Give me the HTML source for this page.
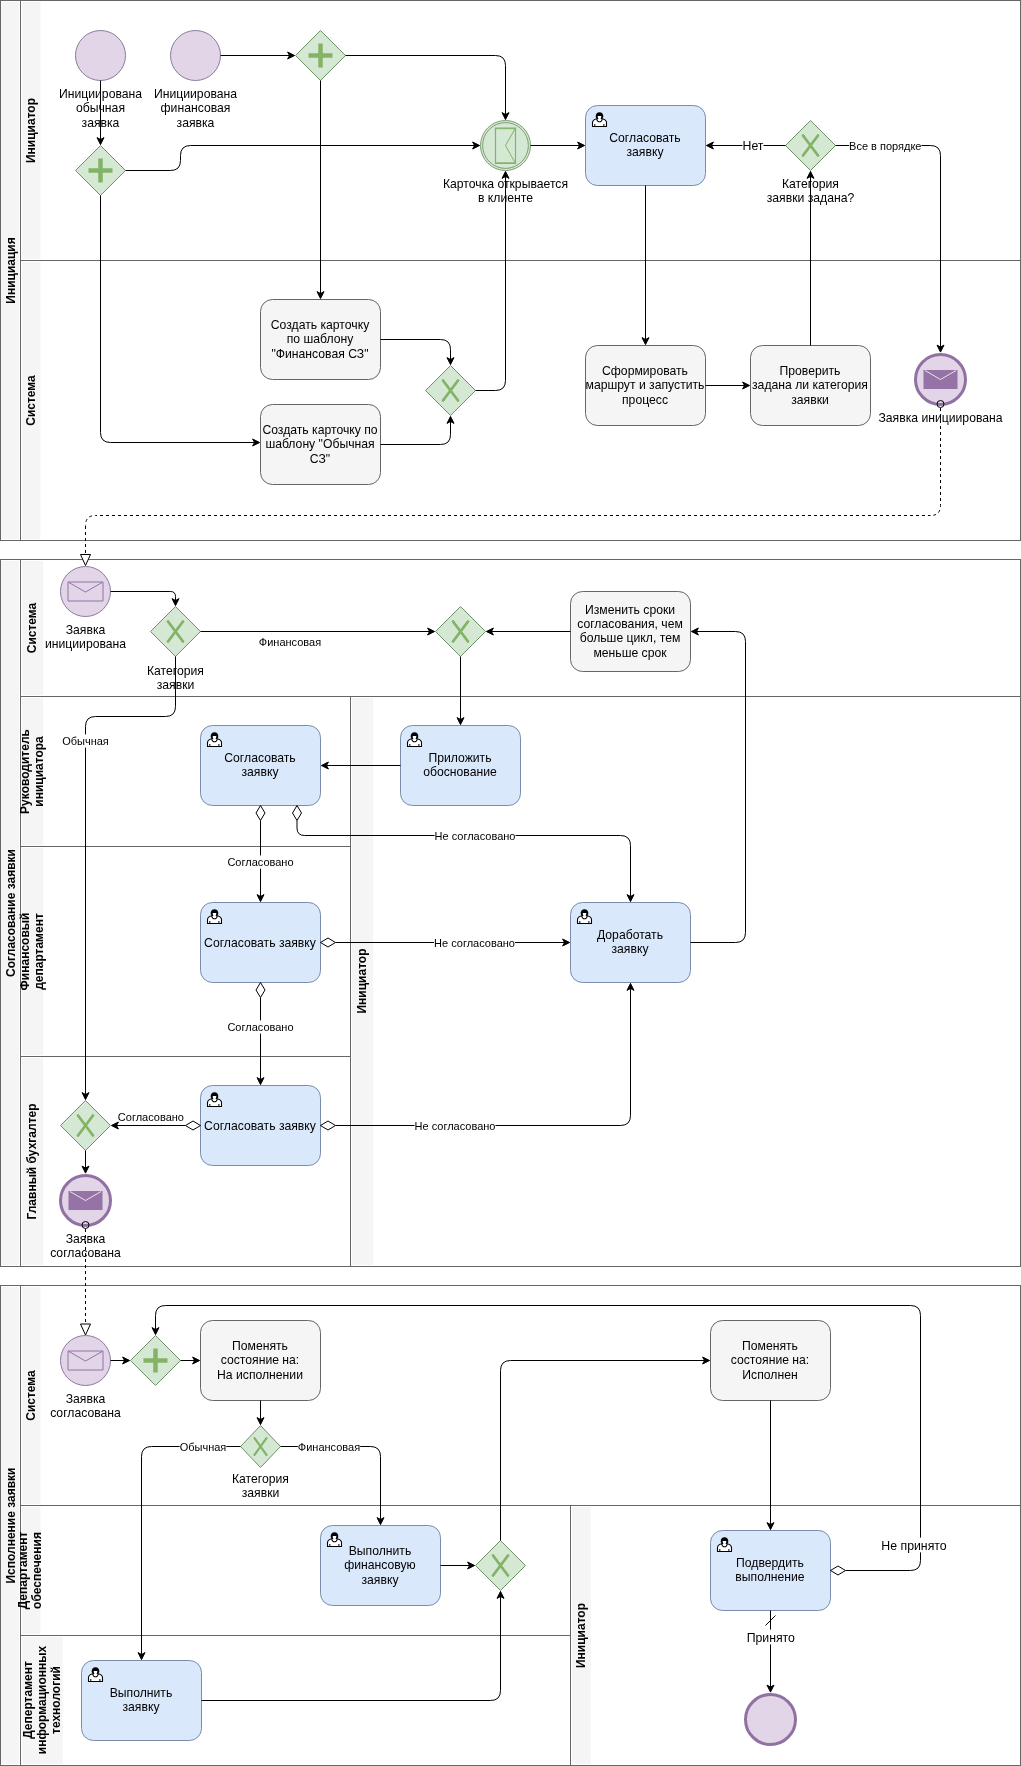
<!DOCTYPE html><html><head><meta charset="utf-8"><title>BPMN</title><style>html,body{margin:0;padding:0;background:#fff;overflow:hidden}svg{display:block;will-change:transform}</style></head><body><svg width="1021" height="1766" viewBox="0 0 1021 1766" font-family="'Liberation Sans', sans-serif">
<rect x="0" y="0" width="1021" height="1766" fill="#fff"/>
<rect x="1.2" y="2" width="17.8" height="537" fill="#f5f5f5"/>
<rect x="22" y="2" width="18.5" height="257" fill="#f5f5f5"/>
<rect x="22" y="262" width="18.5" height="277" fill="#f5f5f5"/>
<path d="M20.5 260.5L1020.5 260.5" stroke="#666666" stroke-width="1" fill="none"/>
<path d="M20.5 0.5L20.5 540.5" stroke="#666666" stroke-width="1" fill="none"/>
<rect x="0.5" y="0.5" width="1020" height="540.0" rx="0" fill="none" stroke="#666666" stroke-width="1"/>
<g transform="translate(11.4,270.5) rotate(-90)"><text x="0" y="3.48" font-size="12" text-anchor="middle" font-weight="bold">Инициация</text></g>
<g transform="translate(31.4,130.5) rotate(-90)"><text x="0" y="3.48" font-size="12" text-anchor="middle" font-weight="bold">Инициатор</text></g>
<g transform="translate(31.4,400.5) rotate(-90)"><text x="0" y="3.48" font-size="12" text-anchor="middle" font-weight="bold">Система</text></g>
<rect x="1.2" y="561" width="17.8" height="704" fill="#f5f5f5"/>
<rect x="22" y="561" width="21.1" height="134" fill="#f5f5f5"/>
<rect x="22" y="698" width="21.1" height="147" fill="#f5f5f5"/>
<rect x="22" y="848" width="21.1" height="207" fill="#f5f5f5"/>
<rect x="22" y="1058" width="21.1" height="207" fill="#f5f5f5"/>
<rect x="352" y="698" width="21.100000000000023" height="567" fill="#f5f5f5"/>
<path d="M20.5 696.5L1020.5 696.5" stroke="#666666" stroke-width="1" fill="none"/>
<path d="M20.5 846.5L350.5 846.5" stroke="#666666" stroke-width="1" fill="none"/>
<path d="M20.5 1056.5L350.5 1056.5" stroke="#666666" stroke-width="1" fill="none"/>
<path d="M350.5 696.5L350.5 1266.5" stroke="#666666" stroke-width="1" fill="none"/>
<path d="M20.5 559.5L20.5 1266.5" stroke="#666666" stroke-width="1" fill="none"/>
<rect x="0.5" y="559.5" width="1020" height="707.0" rx="0" fill="none" stroke="#666666" stroke-width="1"/>
<g transform="translate(11.4,913) rotate(-90)"><text x="0" y="3.48" font-size="12" text-anchor="middle" font-weight="bold">Согласование заявки</text></g>
<g transform="translate(32.9,628) rotate(-90)"><text x="0" y="3.48" font-size="12" text-anchor="middle" font-weight="bold">Система</text></g>
<g transform="translate(32.4,771.5) rotate(-90)"><text x="0" y="-3.72" font-size="12" text-anchor="middle" font-weight="bold">Руководитель</text><text x="0" y="10.68" font-size="12" text-anchor="middle" font-weight="bold">инициатора</text></g>
<g transform="translate(32.4,951.5) rotate(-90)"><text x="0" y="-3.72" font-size="12" text-anchor="middle" font-weight="bold">Финансовый</text><text x="0" y="10.68" font-size="12" text-anchor="middle" font-weight="bold">департамент</text></g>
<g transform="translate(32.9,1161.5) rotate(-90)"><text x="0" y="3.48" font-size="12" text-anchor="middle" font-weight="bold">Главный бухгалтер</text></g>
<g transform="translate(362.4,981) rotate(-90)"><text x="0" y="3.48" font-size="12" text-anchor="middle" font-weight="bold">Инициатор</text></g>
<rect x="1.2" y="1287" width="17.8" height="477" fill="#f5f5f5"/>
<rect x="22" y="1287" width="18.5" height="217" fill="#f5f5f5"/>
<rect x="22" y="1507" width="18.5" height="127" fill="#f5f5f5"/>
<rect x="22" y="1637" width="40.8" height="127" fill="#f5f5f5"/>
<rect x="572" y="1507" width="18.799999999999955" height="257" fill="#f5f5f5"/>
<path d="M20.5 1505.5L1020.5 1505.5" stroke="#666666" stroke-width="1" fill="none"/>
<path d="M20.5 1635.5L570.5 1635.5" stroke="#666666" stroke-width="1" fill="none"/>
<path d="M570.5 1505.5L570.5 1765.5" stroke="#666666" stroke-width="1" fill="none"/>
<path d="M20.5 1285.5L20.5 1765.5" stroke="#666666" stroke-width="1" fill="none"/>
<rect x="0.5" y="1285.5" width="1020" height="480.0" rx="0" fill="none" stroke="#666666" stroke-width="1"/>
<g transform="translate(11.4,1525.5) rotate(-90)"><text x="0" y="3.48" font-size="12" text-anchor="middle" font-weight="bold">Исполнение заявки</text></g>
<g transform="translate(31.4,1395.5) rotate(-90)"><text x="0" y="3.48" font-size="12" text-anchor="middle" font-weight="bold">Система</text></g>
<g transform="translate(30.6,1570.5) rotate(-90)"><text x="0" y="-3.72" font-size="12" text-anchor="middle" font-weight="bold">Департамент</text><text x="0" y="10.68" font-size="12" text-anchor="middle" font-weight="bold">обеспечения</text></g>
<g transform="translate(42.5,1700) rotate(-90)"><text x="0" y="-10.92" font-size="12" text-anchor="middle" font-weight="bold">Депертамент</text><text x="0" y="3.48" font-size="12" text-anchor="middle" font-weight="bold">информационных</text><text x="0" y="17.88" font-size="12" text-anchor="middle" font-weight="bold">технологий</text></g>
<g transform="translate(581.4,1635.5) rotate(-90)"><text x="0" y="3.48" font-size="12" text-anchor="middle" font-weight="bold">Инициатор</text></g>
<circle cx="100.5" cy="55.5" r="25" fill="#e1d5e7" stroke="#8c7a9c"/>
<text x="100.5" y="98.00" font-size="12.2" text-anchor="middle" font-weight="normal" fill="#000">Инициирована</text><text x="100.5" y="112.40" font-size="12.2" text-anchor="middle" font-weight="normal" fill="#000">обычная</text><text x="100.5" y="126.80" font-size="12.2" text-anchor="middle" font-weight="normal" fill="#000">заявка</text>
<circle cx="195.5" cy="55.5" r="25" fill="#e1d5e7" stroke="#8c7a9c"/>
<text x="195.5" y="98.00" font-size="12.2" text-anchor="middle" font-weight="normal" fill="#000">Инициирована</text><text x="195.5" y="112.40" font-size="12.2" text-anchor="middle" font-weight="normal" fill="#000">финансовая</text><text x="195.5" y="126.80" font-size="12.2" text-anchor="middle" font-weight="normal" fill="#000">заявка</text>
<path d="M75.5 170.5L100.5 145.5L125.5 170.5L100.5 195.5Z" fill="#d5e8d4" stroke="#6f9068"/>
<path d="M88.5 168.25H98.25V158.5H102.75V168.25H112.5V172.75H102.75V182.5H98.25V172.75H88.5Z" fill="#82b366"/>
<path d="M295.5 55.5L320.5 30.5L345.5 55.5L320.5 80.5Z" fill="#d5e8d4" stroke="#6f9068"/>
<path d="M308.5 53.25H318.25V43.5H322.75V53.25H332.5V57.75H322.75V67.5H318.25V57.75H308.5Z" fill="#82b366"/>
<circle cx="505.5" cy="145.5" r="25" fill="#d5e8d4" stroke="#7d9e72"/>
<circle cx="505.5" cy="145.5" r="22.9" fill="none" stroke="#7d9e72"/>
<path d="M495.5 128.0H515.5V163.5H495.5Z" fill="none" stroke="#82b366" stroke-width="1.2"/>
<path d="M495.5 128.7H515.5M495.5 162.8H515.5" fill="none" stroke="#82b366" stroke-width="1"/>
<path d="M515.5 128.0L505.5 145.5L515.5 163.5" fill="none" stroke="#82b366" stroke-width="1"/>
<text x="505.5" y="188.00" font-size="12.2" text-anchor="middle" font-weight="normal" fill="#000">Карточка открывается</text><text x="505.5" y="202.40" font-size="12.2" text-anchor="middle" font-weight="normal" fill="#000">в клиенте</text>
<rect x="585.5" y="105.5" width="120" height="80" rx="12" fill="#dae8fc" stroke="#7a8bab" stroke-width="1"/>
<g transform="translate(592.0,112.0)"><path d="M0.5 14.5V10.8C0.5 8.7 2.5 7.3 4.7 6.8C5.1 8.6 6.1 9.8 7.5 9.8C8.9 9.8 9.9 8.6 10.3 6.8C12.5 7.3 14.5 8.7 14.5 10.8V14.5Z" fill="#fff" stroke="#000" stroke-width="1.1" stroke-linejoin="round"/><path d="M3.7 5.0C3.4 2.1 5.1 0.3 7.5 0.3C9.9 0.3 11.6 2.1 11.3 5.0C11.0 5.8 10.5 6.5 10.1 7.1L4.9 7.1C4.5 6.5 4.0 5.8 3.7 5.0Z" fill="#000"/><path d="M5.7 3.9H9.3C9.4 5.0 9.1 5.9 8.6 6.5C9.1 7.0 9.3 7.7 9.2 8.3C8.9 8.9 8.3 9.2 7.5 9.2C6.7 9.2 6.1 8.9 5.8 8.3C5.7 7.7 5.9 7.0 6.4 6.5C5.9 5.9 5.6 5.0 5.7 3.9Z" fill="#fff"/><path d="M2.8 12.0V14.5M11.9 12.0V14.5" stroke="#000" stroke-width="1"/></g>
<text x="645.0" y="141.90" font-size="12.2" text-anchor="middle" font-weight="normal" fill="#000">Согласовать</text><text x="645.0" y="156.30" font-size="12.2" text-anchor="middle" font-weight="normal" fill="#000">заявку</text>
<path d="M785.5 145.5L810.5 120.5L835.5 145.5L810.5 170.5Z" fill="#d5e8d4" stroke="#6f9068"/>
<path d="M803.0 135.5L818.0 155.5M818.0 135.5L803.0 155.5" stroke="#82b366" stroke-width="2.75" stroke-linecap="round" fill="none"/>
<text x="810.5" y="188.00" font-size="12.2" text-anchor="middle" font-weight="normal" fill="#000">Категория</text><text x="810.5" y="202.40" font-size="12.2" text-anchor="middle" font-weight="normal" fill="#000">заявки задана?</text>
<rect x="260.5" y="299.5" width="120" height="80" rx="12" fill="#f5f5f5" stroke="#666666" stroke-width="1"/>
<text x="320.0" y="328.70" font-size="12.2" text-anchor="middle" font-weight="normal" fill="#000">Создать карточку</text><text x="320.0" y="343.10" font-size="12.2" text-anchor="middle" font-weight="normal" fill="#000">по шаблону</text><text x="320.0" y="357.50" font-size="12.2" text-anchor="middle" font-weight="normal" fill="#000">&quot;Финансовая СЗ&quot;</text>
<rect x="260.5" y="404.5" width="120" height="80" rx="12" fill="#f5f5f5" stroke="#666666" stroke-width="1"/>
<text x="320.0" y="433.70" font-size="12.2" text-anchor="middle" font-weight="normal" fill="#000">Создать карточку по</text><text x="320.0" y="448.10" font-size="12.2" text-anchor="middle" font-weight="normal" fill="#000">шаблону &quot;Обычная</text><text x="320.0" y="462.50" font-size="12.2" text-anchor="middle" font-weight="normal" fill="#000">СЗ&quot;</text>
<path d="M425.5 390.5L450.5 365.5L475.5 390.5L450.5 415.5Z" fill="#d5e8d4" stroke="#6f9068"/>
<path d="M443.0 380.5L458.0 400.5M458.0 380.5L443.0 400.5" stroke="#82b366" stroke-width="2.75" stroke-linecap="round" fill="none"/>
<rect x="585.5" y="345.5" width="120" height="80" rx="12" fill="#f5f5f5" stroke="#666666" stroke-width="1"/>
<text x="645.0" y="374.70" font-size="12.2" text-anchor="middle" font-weight="normal" fill="#000">Сформировать</text><text x="645.0" y="389.10" font-size="12.2" text-anchor="middle" font-weight="normal" fill="#000">маршрут и запустить</text><text x="645.0" y="403.50" font-size="12.2" text-anchor="middle" font-weight="normal" fill="#000">процесс</text>
<rect x="750.5" y="345.5" width="120" height="80" rx="12" fill="#f5f5f5" stroke="#666666" stroke-width="1"/>
<text x="810.0" y="374.70" font-size="12.2" text-anchor="middle" font-weight="normal" fill="#000">Проверить</text><text x="810.0" y="389.10" font-size="12.2" text-anchor="middle" font-weight="normal" fill="#000">задана ли категория</text><text x="810.0" y="403.50" font-size="12.2" text-anchor="middle" font-weight="normal" fill="#000">заявки</text>
<circle cx="940.5" cy="379.5" r="25" fill="#e1d5e7" stroke="#9171a2" stroke-width="3"/>
<path d="M923.5 370.0H957.5V389.0H923.5Z" fill="#9673a6"/>
<path d="M925.0 370.5L940.5 379.5L956.0 370.5" fill="none" stroke="#fff" stroke-width="0.8"/>
<text x="940.5" y="422.00" font-size="12.2" text-anchor="middle" font-weight="normal" fill="#000">Заявка инициирована</text>
<path d="M100.5 80.5L100.5 140.5" fill="none" stroke="#000" stroke-width="1"/>
<path d="M100.50 144.60L97.00 137.60L100.50 139.56L104.00 137.60Z" fill="#000" stroke="#000" stroke-width="1" stroke-linejoin="miter"/>
<path d="M220.5 55.5L290.5 55.5" fill="none" stroke="#000" stroke-width="1"/>
<path d="M294.60 55.50L287.60 59.00L289.56 55.50L287.60 52.00Z" fill="#000" stroke="#000" stroke-width="1" stroke-linejoin="miter"/>
<path d="M345.5 55.5L495.50 55.50Q505.5 55.5 505.50 65.50L505.5 115.5" fill="none" stroke="#000" stroke-width="1"/>
<path d="M505.50 119.60L502.00 112.60L505.50 114.56L509.00 112.60Z" fill="#000" stroke="#000" stroke-width="1" stroke-linejoin="miter"/>
<path d="M125.5 170.5L170.50 170.50Q180.5 170.5 180.50 160.50L180.50 155.50Q180.5 145.5 190.50 145.50L475.5 145.5" fill="none" stroke="#000" stroke-width="1"/>
<path d="M479.60 145.50L472.60 149.00L474.56 145.50L472.60 142.00Z" fill="#000" stroke="#000" stroke-width="1" stroke-linejoin="miter"/>
<path d="M100.5 195.5L100.50 432.50Q100.5 442.5 110.50 442.50L255.5 442.5" fill="none" stroke="#000" stroke-width="1"/>
<path d="M259.60 442.50L252.60 446.00L254.56 442.50L252.60 439.00Z" fill="#000" stroke="#000" stroke-width="1" stroke-linejoin="miter"/>
<path d="M320.5 80.5L320.5 294.5" fill="none" stroke="#000" stroke-width="1"/>
<path d="M320.50 298.60L317.00 291.60L320.50 293.56L324.00 291.60Z" fill="#000" stroke="#000" stroke-width="1" stroke-linejoin="miter"/>
<path d="M380.5 339.5L440.50 339.50Q450.5 339.5 450.50 349.50L450.5 360.5" fill="none" stroke="#000" stroke-width="1"/>
<path d="M450.50 364.60L447.00 357.60L450.50 359.56L454.00 357.60Z" fill="#000" stroke="#000" stroke-width="1" stroke-linejoin="miter"/>
<path d="M380.5 444.5L440.50 444.50Q450.5 444.5 450.50 434.50L450.5 420.5" fill="none" stroke="#000" stroke-width="1"/>
<path d="M450.50 416.40L454.00 423.40L450.50 421.44L447.00 423.40Z" fill="#000" stroke="#000" stroke-width="1" stroke-linejoin="miter"/>
<path d="M475.5 390.5L495.50 390.50Q505.5 390.5 505.50 380.50L505.5 175.5" fill="none" stroke="#000" stroke-width="1"/>
<path d="M505.50 171.40L509.00 178.40L505.50 176.44L502.00 178.40Z" fill="#000" stroke="#000" stroke-width="1" stroke-linejoin="miter"/>
<path d="M530.5 145.5L580.5 145.5" fill="none" stroke="#000" stroke-width="1"/>
<path d="M584.60 145.50L577.60 149.00L579.56 145.50L577.60 142.00Z" fill="#000" stroke="#000" stroke-width="1" stroke-linejoin="miter"/>
<path d="M645.5 185.5L645.5 340.5" fill="none" stroke="#000" stroke-width="1"/>
<path d="M645.50 344.60L642.00 337.60L645.50 339.56L649.00 337.60Z" fill="#000" stroke="#000" stroke-width="1" stroke-linejoin="miter"/>
<path d="M705.5 385.5L745.5 385.5" fill="none" stroke="#000" stroke-width="1"/>
<path d="M749.60 385.50L742.60 389.00L744.56 385.50L742.60 382.00Z" fill="#000" stroke="#000" stroke-width="1" stroke-linejoin="miter"/>
<path d="M810.5 345.5L810.5 175.5" fill="none" stroke="#000" stroke-width="1"/>
<path d="M810.50 171.40L814.00 178.40L810.50 176.44L807.00 178.40Z" fill="#000" stroke="#000" stroke-width="1" stroke-linejoin="miter"/>
<path d="M785.5 145.5L710.5 145.5" fill="none" stroke="#000" stroke-width="1"/>
<path d="M706.40 145.50L713.40 142.00L711.44 145.50L713.40 149.00Z" fill="#000" stroke="#000" stroke-width="1" stroke-linejoin="miter"/>
<rect x="742.53" y="138.12" width="20.95" height="14.76" fill="#fff"/>
<text x="753" y="150.24" font-size="12.3" text-anchor="middle">Нет</text>
<path d="M835.5 145.5L930.50 145.50Q940.5 145.5 940.50 155.50L940.5 348.0" fill="none" stroke="#000" stroke-width="1"/>
<path d="M940.50 352.10L937.00 345.10L940.50 347.06L944.00 345.10Z" fill="#000" stroke="#000" stroke-width="1" stroke-linejoin="miter"/>
<rect x="849.10" y="138.90" width="72.41" height="13.20" fill="#fff"/>
<text x="885.3" y="149.74" font-size="11" text-anchor="middle">Все в порядке</text>
<circle cx="940.5" cy="404" r="3.5" fill="none" stroke="#000"/>
<path d="M940.5 407.5V505.5" fill="none" stroke="#000" stroke-dasharray="3 3" stroke-dashoffset="5.5"/>
<path d="M940.5 505.5Q940.5 515.5 930.5 515.5" fill="none" stroke="#000" stroke-dasharray="3 3" stroke-dashoffset="1.5"/>
<path d="M930.5 515.5H95.5" fill="none" stroke="#000" stroke-dasharray="3 3" stroke-dashoffset="0.5"/>
<path d="M95.5 515.5Q85.5 515.5 85.5 525.5" fill="none" stroke="#000" stroke-dasharray="3 3" stroke-dashoffset="2.5"/>
<path d="M85.5 525.5V555" fill="none" stroke="#000" stroke-dasharray="3 3" stroke-dashoffset="5.5"/>
<path d="M85.5 565.5L80.50 554.50L90.50 554.50Z" fill="#fff" stroke="#000" stroke-width="1"/>
<circle cx="85.5" cy="591.5" r="25" fill="#e1d5e7" stroke="#8c7a9c"/>
<path d="M68.0 582.0H103.0V601.0H68.0Z" fill="none" stroke="#9673a6" stroke-width="1"/>
<path d="M68.5 582.3L85.5 592.0L102.5 582.3" fill="none" stroke="#9673a6" stroke-width="1"/>
<text x="85.5" y="634.00" font-size="12.2" text-anchor="middle" font-weight="normal" fill="#000">Заявка</text><text x="85.5" y="648.40" font-size="12.2" text-anchor="middle" font-weight="normal" fill="#000">инициирована</text>
<path d="M150.5 631.5L175.5 606.5L200.5 631.5L175.5 656.5Z" fill="#d5e8d4" stroke="#6f9068"/>
<path d="M168.0 621.5L183.0 641.5M183.0 621.5L168.0 641.5" stroke="#82b366" stroke-width="2.75" stroke-linecap="round" fill="none"/>
<text x="175.5" y="674.50" font-size="12.2" text-anchor="middle" font-weight="normal" fill="#000">Категория</text><text x="175.5" y="688.90" font-size="12.2" text-anchor="middle" font-weight="normal" fill="#000">заявки</text>
<path d="M435.5 631.5L460.5 606.5L485.5 631.5L460.5 656.5Z" fill="#d5e8d4" stroke="#6f9068"/>
<path d="M453.0 621.5L468.0 641.5M468.0 621.5L453.0 641.5" stroke="#82b366" stroke-width="2.75" stroke-linecap="round" fill="none"/>
<rect x="570.5" y="591.5" width="120" height="80" rx="12" fill="#f5f5f5" stroke="#666666" stroke-width="1"/>
<text x="630.0" y="613.50" font-size="12.2" text-anchor="middle" font-weight="normal" fill="#000">Изменить сроки</text><text x="630.0" y="627.90" font-size="12.2" text-anchor="middle" font-weight="normal" fill="#000">согласования, чем</text><text x="630.0" y="642.30" font-size="12.2" text-anchor="middle" font-weight="normal" fill="#000">больше цикл, тем</text><text x="630.0" y="656.70" font-size="12.2" text-anchor="middle" font-weight="normal" fill="#000">меньше срок</text>
<rect x="200.5" y="725.5" width="120" height="80" rx="12" fill="#dae8fc" stroke="#7a8bab" stroke-width="1"/>
<g transform="translate(207.0,732.0)"><path d="M0.5 14.5V10.8C0.5 8.7 2.5 7.3 4.7 6.8C5.1 8.6 6.1 9.8 7.5 9.8C8.9 9.8 9.9 8.6 10.3 6.8C12.5 7.3 14.5 8.7 14.5 10.8V14.5Z" fill="#fff" stroke="#000" stroke-width="1.1" stroke-linejoin="round"/><path d="M3.7 5.0C3.4 2.1 5.1 0.3 7.5 0.3C9.9 0.3 11.6 2.1 11.3 5.0C11.0 5.8 10.5 6.5 10.1 7.1L4.9 7.1C4.5 6.5 4.0 5.8 3.7 5.0Z" fill="#000"/><path d="M5.7 3.9H9.3C9.4 5.0 9.1 5.9 8.6 6.5C9.1 7.0 9.3 7.7 9.2 8.3C8.9 8.9 8.3 9.2 7.5 9.2C6.7 9.2 6.1 8.9 5.8 8.3C5.7 7.7 5.9 7.0 6.4 6.5C5.9 5.9 5.6 5.0 5.7 3.9Z" fill="#fff"/><path d="M2.8 12.0V14.5M11.9 12.0V14.5" stroke="#000" stroke-width="1"/></g>
<text x="260.0" y="761.90" font-size="12.2" text-anchor="middle" font-weight="normal" fill="#000">Согласовать</text><text x="260.0" y="776.30" font-size="12.2" text-anchor="middle" font-weight="normal" fill="#000">заявку</text>
<rect x="400.5" y="725.5" width="120" height="80" rx="12" fill="#dae8fc" stroke="#7a8bab" stroke-width="1"/>
<g transform="translate(407.0,732.0)"><path d="M0.5 14.5V10.8C0.5 8.7 2.5 7.3 4.7 6.8C5.1 8.6 6.1 9.8 7.5 9.8C8.9 9.8 9.9 8.6 10.3 6.8C12.5 7.3 14.5 8.7 14.5 10.8V14.5Z" fill="#fff" stroke="#000" stroke-width="1.1" stroke-linejoin="round"/><path d="M3.7 5.0C3.4 2.1 5.1 0.3 7.5 0.3C9.9 0.3 11.6 2.1 11.3 5.0C11.0 5.8 10.5 6.5 10.1 7.1L4.9 7.1C4.5 6.5 4.0 5.8 3.7 5.0Z" fill="#000"/><path d="M5.7 3.9H9.3C9.4 5.0 9.1 5.9 8.6 6.5C9.1 7.0 9.3 7.7 9.2 8.3C8.9 8.9 8.3 9.2 7.5 9.2C6.7 9.2 6.1 8.9 5.8 8.3C5.7 7.7 5.9 7.0 6.4 6.5C5.9 5.9 5.6 5.0 5.7 3.9Z" fill="#fff"/><path d="M2.8 12.0V14.5M11.9 12.0V14.5" stroke="#000" stroke-width="1"/></g>
<text x="460.0" y="761.90" font-size="12.2" text-anchor="middle" font-weight="normal" fill="#000">Приложить</text><text x="460.0" y="776.30" font-size="12.2" text-anchor="middle" font-weight="normal" fill="#000">обоснование</text>
<rect x="200.5" y="902.5" width="120" height="80" rx="12" fill="#dae8fc" stroke="#7a8bab" stroke-width="1"/>
<g transform="translate(207.0,909.0)"><path d="M0.5 14.5V10.8C0.5 8.7 2.5 7.3 4.7 6.8C5.1 8.6 6.1 9.8 7.5 9.8C8.9 9.8 9.9 8.6 10.3 6.8C12.5 7.3 14.5 8.7 14.5 10.8V14.5Z" fill="#fff" stroke="#000" stroke-width="1.1" stroke-linejoin="round"/><path d="M3.7 5.0C3.4 2.1 5.1 0.3 7.5 0.3C9.9 0.3 11.6 2.1 11.3 5.0C11.0 5.8 10.5 6.5 10.1 7.1L4.9 7.1C4.5 6.5 4.0 5.8 3.7 5.0Z" fill="#000"/><path d="M5.7 3.9H9.3C9.4 5.0 9.1 5.9 8.6 6.5C9.1 7.0 9.3 7.7 9.2 8.3C8.9 8.9 8.3 9.2 7.5 9.2C6.7 9.2 6.1 8.9 5.8 8.3C5.7 7.7 5.9 7.0 6.4 6.5C5.9 5.9 5.6 5.0 5.7 3.9Z" fill="#fff"/><path d="M2.8 12.0V14.5M11.9 12.0V14.5" stroke="#000" stroke-width="1"/></g>
<text x="260.0" y="946.90" font-size="12.2" text-anchor="middle" font-weight="normal" fill="#000">Согласовать заявку</text>
<rect x="570.5" y="902.5" width="120" height="80" rx="12" fill="#dae8fc" stroke="#7a8bab" stroke-width="1"/>
<g transform="translate(577.0,909.0)"><path d="M0.5 14.5V10.8C0.5 8.7 2.5 7.3 4.7 6.8C5.1 8.6 6.1 9.8 7.5 9.8C8.9 9.8 9.9 8.6 10.3 6.8C12.5 7.3 14.5 8.7 14.5 10.8V14.5Z" fill="#fff" stroke="#000" stroke-width="1.1" stroke-linejoin="round"/><path d="M3.7 5.0C3.4 2.1 5.1 0.3 7.5 0.3C9.9 0.3 11.6 2.1 11.3 5.0C11.0 5.8 10.5 6.5 10.1 7.1L4.9 7.1C4.5 6.5 4.0 5.8 3.7 5.0Z" fill="#000"/><path d="M5.7 3.9H9.3C9.4 5.0 9.1 5.9 8.6 6.5C9.1 7.0 9.3 7.7 9.2 8.3C8.9 8.9 8.3 9.2 7.5 9.2C6.7 9.2 6.1 8.9 5.8 8.3C5.7 7.7 5.9 7.0 6.4 6.5C5.9 5.9 5.6 5.0 5.7 3.9Z" fill="#fff"/><path d="M2.8 12.0V14.5M11.9 12.0V14.5" stroke="#000" stroke-width="1"/></g>
<text x="630.0" y="938.90" font-size="12.2" text-anchor="middle" font-weight="normal" fill="#000">Доработать</text><text x="630.0" y="953.30" font-size="12.2" text-anchor="middle" font-weight="normal" fill="#000">заявку</text>
<rect x="200.5" y="1085.5" width="120" height="80" rx="12" fill="#dae8fc" stroke="#7a8bab" stroke-width="1"/>
<g transform="translate(207.0,1092.0)"><path d="M0.5 14.5V10.8C0.5 8.7 2.5 7.3 4.7 6.8C5.1 8.6 6.1 9.8 7.5 9.8C8.9 9.8 9.9 8.6 10.3 6.8C12.5 7.3 14.5 8.7 14.5 10.8V14.5Z" fill="#fff" stroke="#000" stroke-width="1.1" stroke-linejoin="round"/><path d="M3.7 5.0C3.4 2.1 5.1 0.3 7.5 0.3C9.9 0.3 11.6 2.1 11.3 5.0C11.0 5.8 10.5 6.5 10.1 7.1L4.9 7.1C4.5 6.5 4.0 5.8 3.7 5.0Z" fill="#000"/><path d="M5.7 3.9H9.3C9.4 5.0 9.1 5.9 8.6 6.5C9.1 7.0 9.3 7.7 9.2 8.3C8.9 8.9 8.3 9.2 7.5 9.2C6.7 9.2 6.1 8.9 5.8 8.3C5.7 7.7 5.9 7.0 6.4 6.5C5.9 5.9 5.6 5.0 5.7 3.9Z" fill="#fff"/><path d="M2.8 12.0V14.5M11.9 12.0V14.5" stroke="#000" stroke-width="1"/></g>
<text x="260.0" y="1129.90" font-size="12.2" text-anchor="middle" font-weight="normal" fill="#000">Согласовать заявку</text>
<path d="M60.5 1125.5L85.5 1100.5L110.5 1125.5L85.5 1150.5Z" fill="#d5e8d4" stroke="#6f9068"/>
<path d="M78.0 1115.5L93.0 1135.5M93.0 1115.5L78.0 1135.5" stroke="#82b366" stroke-width="2.75" stroke-linecap="round" fill="none"/>
<circle cx="85.5" cy="1200.5" r="25" fill="#e1d5e7" stroke="#9171a2" stroke-width="3"/>
<path d="M68.5 1191.0H102.5V1210.0H68.5Z" fill="#9673a6"/>
<path d="M70.0 1191.5L85.5 1200.5L101.0 1191.5" fill="none" stroke="#fff" stroke-width="0.8"/>
<text x="85.5" y="1243.00" font-size="12.2" text-anchor="middle" font-weight="normal" fill="#000">Заявка</text><text x="85.5" y="1257.40" font-size="12.2" text-anchor="middle" font-weight="normal" fill="#000">согласована</text>
<path d="M110.5 591.5L170.50 591.50Q175.5 591.5 175.50 596.50L175.5 601.5" fill="none" stroke="#000" stroke-width="1"/>
<path d="M175.50 605.60L172.00 598.60L175.50 600.56L179.00 598.60Z" fill="#000" stroke="#000" stroke-width="1" stroke-linejoin="miter"/>
<path d="M200.5 631.5L430.5 631.5" fill="none" stroke="#000" stroke-width="1"/>
<path d="M434.60 631.50L427.60 635.00L429.56 631.50L427.60 628.00Z" fill="#000" stroke="#000" stroke-width="1" stroke-linejoin="miter"/>
<text x="290" y="646.24" font-size="11" text-anchor="middle">Финансовая</text>
<path d="M175.5 656.5L175.50 706.50Q175.5 716.5 165.50 716.50L95.50 716.50Q85.5 716.5 85.50 726.50L85.5 1095.5" fill="none" stroke="#000" stroke-width="1"/>
<path d="M85.50 1099.60L82.00 1092.60L85.50 1094.56L89.00 1092.60Z" fill="#000" stroke="#000" stroke-width="1" stroke-linejoin="miter"/>
<rect x="62.18" y="734.40" width="46.64" height="13.20" fill="#fff"/>
<text x="85.5" y="745.24" font-size="11" text-anchor="middle">Обычная</text>
<path d="M570.5 631.5L490.5 631.5" fill="none" stroke="#000" stroke-width="1"/>
<path d="M486.40 631.50L493.40 628.00L491.44 631.50L493.40 635.00Z" fill="#000" stroke="#000" stroke-width="1" stroke-linejoin="miter"/>
<path d="M460.5 656.5L460.5 720.5" fill="none" stroke="#000" stroke-width="1"/>
<path d="M460.50 724.60L457.00 717.60L460.50 719.56L464.00 717.60Z" fill="#000" stroke="#000" stroke-width="1" stroke-linejoin="miter"/>
<path d="M400.5 765.5L325.5 765.5" fill="none" stroke="#000" stroke-width="1"/>
<path d="M321.40 765.50L328.40 762.00L326.44 765.50L328.40 769.00Z" fill="#000" stroke="#000" stroke-width="1" stroke-linejoin="miter"/>
<path d="M260.5 805.5L256.00 813.00L260.50 820.50L265.00 813.00Z" fill="#fff" stroke="#000" stroke-width="1"/>
<path d="M260.5 820.5L260.5 897.5" fill="none" stroke="#000" stroke-width="1"/>
<path d="M260.50 901.60L257.00 894.60L260.50 896.56L264.00 894.60Z" fill="#000" stroke="#000" stroke-width="1" stroke-linejoin="miter"/>
<rect x="227.43" y="855.40" width="66.14" height="13.20" fill="#fff"/>
<text x="260.5" y="866.24" font-size="11" text-anchor="middle">Согласовано</text>
<path d="M297 805.5L292.50 813.00L297.00 820.50L301.50 813.00Z" fill="#fff" stroke="#000" stroke-width="1"/>
<path d="M297 820.5L297.00 828.00Q297 835.5 304.50 835.50L620.50 835.50Q630.5 835.5 630.50 845.50L630.5 897.5" fill="none" stroke="#000" stroke-width="1"/>
<path d="M630.50 901.60L627.00 894.60L630.50 896.56L634.00 894.60Z" fill="#000" stroke="#000" stroke-width="1" stroke-linejoin="miter"/>
<rect x="434.53" y="828.90" width="80.94" height="13.20" fill="#fff"/>
<text x="475" y="839.74" font-size="11" text-anchor="middle">Не согласовано</text>
<path d="M320.5 942.5L328.00 947.00L335.50 942.50L328.00 938.00Z" fill="#fff" stroke="#000" stroke-width="1"/>
<path d="M335.5 942.5L565.5 942.5" fill="none" stroke="#000" stroke-width="1"/>
<path d="M569.60 942.50L562.60 946.00L564.56 942.50L562.60 939.00Z" fill="#000" stroke="#000" stroke-width="1" stroke-linejoin="miter"/>
<rect x="434.03" y="935.90" width="80.94" height="13.20" fill="#fff"/>
<text x="474.5" y="946.74" font-size="11" text-anchor="middle">Не согласовано</text>
<path d="M260.5 982.5L256.00 990.00L260.50 997.50L265.00 990.00Z" fill="#fff" stroke="#000" stroke-width="1"/>
<path d="M260.5 997.5L260.5 1080.5" fill="none" stroke="#000" stroke-width="1"/>
<path d="M260.50 1084.60L257.00 1077.60L260.50 1079.56L264.00 1077.60Z" fill="#000" stroke="#000" stroke-width="1" stroke-linejoin="miter"/>
<rect x="227.43" y="1020.40" width="66.14" height="13.20" fill="#fff"/>
<text x="260.5" y="1031.23" font-size="11" text-anchor="middle">Согласовано</text>
<path d="M320.5 1125.5L328.00 1130.00L335.50 1125.50L328.00 1121.00Z" fill="#fff" stroke="#000" stroke-width="1"/>
<path d="M335.5 1125.5L620.50 1125.50Q630.5 1125.5 630.50 1115.50L630.5 987.5" fill="none" stroke="#000" stroke-width="1"/>
<path d="M630.50 983.40L634.00 990.40L630.50 988.44L627.00 990.40Z" fill="#000" stroke="#000" stroke-width="1" stroke-linejoin="miter"/>
<rect x="414.53" y="1119.40" width="80.94" height="13.20" fill="#fff"/>
<text x="455" y="1130.23" font-size="11" text-anchor="middle">Не согласовано</text>
<path d="M200.5 1125.5L193.00 1121.00L185.50 1125.50L193.00 1130.00Z" fill="#fff" stroke="#000" stroke-width="1"/>
<path d="M185.5 1125.5L115.5 1125.5" fill="none" stroke="#000" stroke-width="1"/>
<path d="M111.40 1125.50L118.40 1122.00L116.44 1125.50L118.40 1129.00Z" fill="#000" stroke="#000" stroke-width="1" stroke-linejoin="miter"/>
<text x="150.9" y="1120.53" font-size="11" text-anchor="middle">Согласовано</text>
<path d="M690.5 942.5L735.50 942.50Q745.5 942.5 745.50 932.50L745.50 641.50Q745.5 631.5 735.50 631.50L695.5 631.5" fill="none" stroke="#000" stroke-width="1"/>
<path d="M691.40 631.50L698.40 628.00L696.44 631.50L698.40 635.00Z" fill="#000" stroke="#000" stroke-width="1" stroke-linejoin="miter"/>
<path d="M85.5 1150.5L85.5 1169.0" fill="none" stroke="#000" stroke-width="1"/>
<path d="M85.50 1173.10L82.00 1166.10L85.50 1168.06L89.00 1166.10Z" fill="#000" stroke="#000" stroke-width="1" stroke-linejoin="miter"/>
<circle cx="85.5" cy="1225" r="3.5" fill="none" stroke="#000"/>
<path d="M85.5 1228.5V1325" fill="none" stroke="#000" stroke-dasharray="3 3" stroke-dashoffset="5.5"/>
<path d="M85.5 1335L80.50 1324.00L90.50 1324.00Z" fill="#fff" stroke="#000" stroke-width="1"/>
<circle cx="85.5" cy="1360.5" r="25" fill="#e1d5e7" stroke="#8c7a9c"/>
<path d="M68.0 1351.0H103.0V1370.0H68.0Z" fill="none" stroke="#9673a6" stroke-width="1"/>
<path d="M68.5 1351.3L85.5 1361.0L102.5 1351.3" fill="none" stroke="#9673a6" stroke-width="1"/>
<text x="85.5" y="1403.00" font-size="12.2" text-anchor="middle" font-weight="normal" fill="#000">Заявка</text><text x="85.5" y="1417.40" font-size="12.2" text-anchor="middle" font-weight="normal" fill="#000">согласована</text>
<path d="M130.5 1360.5L155.5 1335.5L180.5 1360.5L155.5 1385.5Z" fill="#d5e8d4" stroke="#6f9068"/>
<path d="M143.5 1358.25H153.25V1348.5H157.75V1358.25H167.5V1362.75H157.75V1372.5H153.25V1362.75H143.5Z" fill="#82b366"/>
<rect x="200.5" y="1320.5" width="120" height="80" rx="12" fill="#f5f5f5" stroke="#666666" stroke-width="1"/>
<text x="260.0" y="1349.70" font-size="12.2" text-anchor="middle" font-weight="normal" fill="#000">Поменять</text><text x="260.0" y="1364.10" font-size="12.2" text-anchor="middle" font-weight="normal" fill="#000">состояние на:</text><text x="260.0" y="1378.50" font-size="12.2" text-anchor="middle" font-weight="normal" fill="#000">На исполнении</text>
<path d="M240.5 1446.5L260.5 1425.5L280.5 1446.5L260.5 1467.5Z" fill="#d5e8d4" stroke="#6f9068"/>
<path d="M254.5 1438.1L266.5 1454.9M266.5 1438.1L254.5 1454.9" stroke="#82b366" stroke-width="2.20" stroke-linecap="round" fill="none"/>
<text x="260.5" y="1483.00" font-size="12.2" text-anchor="middle" font-weight="normal" fill="#000">Категория</text><text x="260.5" y="1497.40" font-size="12.2" text-anchor="middle" font-weight="normal" fill="#000">заявки</text>
<rect x="710.5" y="1320.5" width="120" height="80" rx="12" fill="#f5f5f5" stroke="#666666" stroke-width="1"/>
<text x="770.0" y="1349.70" font-size="12.2" text-anchor="middle" font-weight="normal" fill="#000">Поменять</text><text x="770.0" y="1364.10" font-size="12.2" text-anchor="middle" font-weight="normal" fill="#000">состояние на:</text><text x="770.0" y="1378.50" font-size="12.2" text-anchor="middle" font-weight="normal" fill="#000">Исполнен</text>
<rect x="320.5" y="1525.5" width="120" height="80" rx="12" fill="#dae8fc" stroke="#7a8bab" stroke-width="1"/>
<g transform="translate(327.0,1532.0)"><path d="M0.5 14.5V10.8C0.5 8.7 2.5 7.3 4.7 6.8C5.1 8.6 6.1 9.8 7.5 9.8C8.9 9.8 9.9 8.6 10.3 6.8C12.5 7.3 14.5 8.7 14.5 10.8V14.5Z" fill="#fff" stroke="#000" stroke-width="1.1" stroke-linejoin="round"/><path d="M3.7 5.0C3.4 2.1 5.1 0.3 7.5 0.3C9.9 0.3 11.6 2.1 11.3 5.0C11.0 5.8 10.5 6.5 10.1 7.1L4.9 7.1C4.5 6.5 4.0 5.8 3.7 5.0Z" fill="#000"/><path d="M5.7 3.9H9.3C9.4 5.0 9.1 5.9 8.6 6.5C9.1 7.0 9.3 7.7 9.2 8.3C8.9 8.9 8.3 9.2 7.5 9.2C6.7 9.2 6.1 8.9 5.8 8.3C5.7 7.7 5.9 7.0 6.4 6.5C5.9 5.9 5.6 5.0 5.7 3.9Z" fill="#fff"/><path d="M2.8 12.0V14.5M11.9 12.0V14.5" stroke="#000" stroke-width="1"/></g>
<text x="380.0" y="1554.70" font-size="12.2" text-anchor="middle" font-weight="normal" fill="#000">Выполнить</text><text x="380.0" y="1569.10" font-size="12.2" text-anchor="middle" font-weight="normal" fill="#000">финансовую</text><text x="380.0" y="1583.50" font-size="12.2" text-anchor="middle" font-weight="normal" fill="#000">заявку</text>
<path d="M475.5 1565.5L500.5 1540.5L525.5 1565.5L500.5 1590.5Z" fill="#d5e8d4" stroke="#6f9068"/>
<path d="M493.0 1555.5L508.0 1575.5M508.0 1555.5L493.0 1575.5" stroke="#82b366" stroke-width="2.75" stroke-linecap="round" fill="none"/>
<rect x="81.5" y="1660.5" width="120" height="80" rx="12" fill="#dae8fc" stroke="#7a8bab" stroke-width="1"/>
<g transform="translate(88.0,1667.0)"><path d="M0.5 14.5V10.8C0.5 8.7 2.5 7.3 4.7 6.8C5.1 8.6 6.1 9.8 7.5 9.8C8.9 9.8 9.9 8.6 10.3 6.8C12.5 7.3 14.5 8.7 14.5 10.8V14.5Z" fill="#fff" stroke="#000" stroke-width="1.1" stroke-linejoin="round"/><path d="M3.7 5.0C3.4 2.1 5.1 0.3 7.5 0.3C9.9 0.3 11.6 2.1 11.3 5.0C11.0 5.8 10.5 6.5 10.1 7.1L4.9 7.1C4.5 6.5 4.0 5.8 3.7 5.0Z" fill="#000"/><path d="M5.7 3.9H9.3C9.4 5.0 9.1 5.9 8.6 6.5C9.1 7.0 9.3 7.7 9.2 8.3C8.9 8.9 8.3 9.2 7.5 9.2C6.7 9.2 6.1 8.9 5.8 8.3C5.7 7.7 5.9 7.0 6.4 6.5C5.9 5.9 5.6 5.0 5.7 3.9Z" fill="#fff"/><path d="M2.8 12.0V14.5M11.9 12.0V14.5" stroke="#000" stroke-width="1"/></g>
<text x="141.0" y="1696.90" font-size="12.2" text-anchor="middle" font-weight="normal" fill="#000">Выполнить</text><text x="141.0" y="1711.30" font-size="12.2" text-anchor="middle" font-weight="normal" fill="#000">заявку</text>
<rect x="710.5" y="1530.5" width="120" height="80" rx="12" fill="#dae8fc" stroke="#7a8bab" stroke-width="1"/>
<g transform="translate(717.0,1537.0)"><path d="M0.5 14.5V10.8C0.5 8.7 2.5 7.3 4.7 6.8C5.1 8.6 6.1 9.8 7.5 9.8C8.9 9.8 9.9 8.6 10.3 6.8C12.5 7.3 14.5 8.7 14.5 10.8V14.5Z" fill="#fff" stroke="#000" stroke-width="1.1" stroke-linejoin="round"/><path d="M3.7 5.0C3.4 2.1 5.1 0.3 7.5 0.3C9.9 0.3 11.6 2.1 11.3 5.0C11.0 5.8 10.5 6.5 10.1 7.1L4.9 7.1C4.5 6.5 4.0 5.8 3.7 5.0Z" fill="#000"/><path d="M5.7 3.9H9.3C9.4 5.0 9.1 5.9 8.6 6.5C9.1 7.0 9.3 7.7 9.2 8.3C8.9 8.9 8.3 9.2 7.5 9.2C6.7 9.2 6.1 8.9 5.8 8.3C5.7 7.7 5.9 7.0 6.4 6.5C5.9 5.9 5.6 5.0 5.7 3.9Z" fill="#fff"/><path d="M2.8 12.0V14.5M11.9 12.0V14.5" stroke="#000" stroke-width="1"/></g>
<text x="770.0" y="1566.90" font-size="12.2" text-anchor="middle" font-weight="normal" fill="#000">Подвердить</text><text x="770.0" y="1581.30" font-size="12.2" text-anchor="middle" font-weight="normal" fill="#000">выполнение</text>
<circle cx="770.5" cy="1719.5" r="25" fill="#e1d5e7" stroke="#9171a2" stroke-width="3"/>
<path d="M110.5 1360.5L125.5 1360.5" fill="none" stroke="#000" stroke-width="1"/>
<path d="M129.60 1360.50L122.60 1364.00L124.56 1360.50L122.60 1357.00Z" fill="#000" stroke="#000" stroke-width="1" stroke-linejoin="miter"/>
<path d="M180.5 1360.5L195.5 1360.5" fill="none" stroke="#000" stroke-width="1"/>
<path d="M199.60 1360.50L192.60 1364.00L194.56 1360.50L192.60 1357.00Z" fill="#000" stroke="#000" stroke-width="1" stroke-linejoin="miter"/>
<path d="M260.5 1400.5L260.5 1420.5" fill="none" stroke="#000" stroke-width="1"/>
<path d="M260.50 1424.60L257.00 1417.60L260.50 1419.56L264.00 1417.60Z" fill="#000" stroke="#000" stroke-width="1" stroke-linejoin="miter"/>
<path d="M240.5 1446.5L151.50 1446.50Q141.5 1446.5 141.50 1456.50L141.5 1655.5" fill="none" stroke="#000" stroke-width="1"/>
<path d="M141.50 1659.60L138.00 1652.60L141.50 1654.56L145.00 1652.60Z" fill="#000" stroke="#000" stroke-width="1" stroke-linejoin="miter"/>
<rect x="179.68" y="1440.40" width="46.64" height="13.20" fill="#fff"/>
<text x="203" y="1451.23" font-size="11" text-anchor="middle">Обычная</text>
<path d="M280.5 1446.5L370.50 1446.50Q380.5 1446.5 380.50 1456.50L380.5 1520.5" fill="none" stroke="#000" stroke-width="1"/>
<path d="M380.50 1524.60L377.00 1517.60L380.50 1519.56L384.00 1517.60Z" fill="#000" stroke="#000" stroke-width="1" stroke-linejoin="miter"/>
<rect x="297.84" y="1440.40" width="62.31" height="13.20" fill="#fff"/>
<text x="329" y="1451.23" font-size="11" text-anchor="middle">Финансовая</text>
<path d="M440.5 1565.5L470.5 1565.5" fill="none" stroke="#000" stroke-width="1"/>
<path d="M474.60 1565.50L467.60 1569.00L469.56 1565.50L467.60 1562.00Z" fill="#000" stroke="#000" stroke-width="1" stroke-linejoin="miter"/>
<path d="M201.5 1700.5L490.50 1700.50Q500.5 1700.5 500.50 1690.50L500.5 1595.5" fill="none" stroke="#000" stroke-width="1"/>
<path d="M500.50 1591.40L504.00 1598.40L500.50 1596.44L497.00 1598.40Z" fill="#000" stroke="#000" stroke-width="1" stroke-linejoin="miter"/>
<path d="M500.5 1540.5L500.50 1370.50Q500.5 1360.5 510.50 1360.50L705.5 1360.5" fill="none" stroke="#000" stroke-width="1"/>
<path d="M709.60 1360.50L702.60 1364.00L704.56 1360.50L702.60 1357.00Z" fill="#000" stroke="#000" stroke-width="1" stroke-linejoin="miter"/>
<path d="M770.5 1400.5L770.5 1525.5" fill="none" stroke="#000" stroke-width="1"/>
<path d="M770.50 1529.60L767.00 1522.60L770.50 1524.56L774.00 1522.60Z" fill="#000" stroke="#000" stroke-width="1" stroke-linejoin="miter"/>
<path d="M830.5 1570.5L838.00 1575.00L845.50 1570.50L838.00 1566.00Z" fill="#fff" stroke="#000" stroke-width="1"/>
<path d="M845.5 1570.5L910.50 1570.50Q920.5 1570.5 920.50 1560.50L920.50 1315.50Q920.5 1305.5 910.50 1305.50L165.50 1305.50Q155.5 1305.5 155.50 1315.50L155.5 1330.5" fill="none" stroke="#000" stroke-width="1"/>
<path d="M155.50 1334.60L152.00 1327.60L155.50 1329.56L159.00 1327.60Z" fill="#000" stroke="#000" stroke-width="1" stroke-linejoin="miter"/>
<rect x="881.35" y="1537.62" width="65.30" height="14.76" fill="#fff"/>
<text x="914" y="1549.74" font-size="12.3" text-anchor="middle">Не принято</text>
<path d="M770.5 1610.5L770.5 1688.0" fill="none" stroke="#000" stroke-width="1"/>
<path d="M770.50 1692.10L767.00 1685.10L770.50 1687.06L774.00 1685.10Z" fill="#000" stroke="#000" stroke-width="1" stroke-linejoin="miter"/>
<path d="M765.5 1625.5L775.5 1615.5" stroke="#000" stroke-width="1" fill="none"/>
<rect x="746.63" y="1629.62" width="48.34" height="14.76" fill="#fff"/>
<text x="770.8" y="1641.74" font-size="12.3" text-anchor="middle">Принято</text>
</svg></body></html>
